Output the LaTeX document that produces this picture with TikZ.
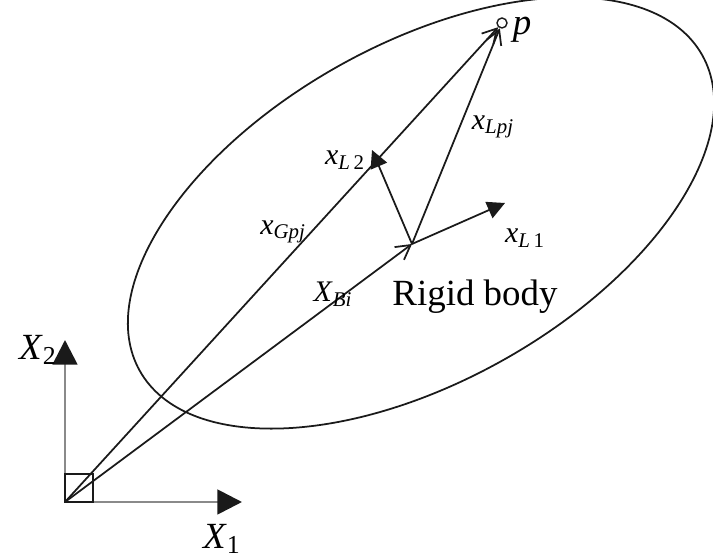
\documentclass[tikz,border=0pt]{standalone}
\usepackage{fontspec}
\setmainfont{Liberation Serif}
\usepackage{tikz}
\usetikzlibrary{shapes.geometric, arrows.meta, positioning, calc}
\definecolor{axisgray}{HTML}{8A8A8A}
\definecolor{inkblack}{HTML}{1A1A1A}

\begin{document}
\begin{tikzpicture}[
  vec/.style={-{Straight Barb[length=8pt, width=9pt, line width=1pt]}, inkblack, line width=1pt},
  frame/.style={-{Triangle[length=14pt, width=14pt, color=inkblack]}, line width=1.6pt, draw=axisgray},
  unitvec/.style={-{Triangle[length=10pt, width=10pt]}, inkblack, line width=1pt},
  lbl/.style={font=\fontsize{17}{19}\selectfont, inner sep=1pt},
  biglbl/.style={font=\fontsize{21}{24}\selectfont, inner sep=1pt},
]
  \useasboundingbox (0,0) rectangle (14.26,11.18);

  % rigid body
  \node[ellipse, draw=inkblack, line width=1pt, rotate=29.3, inner sep=0pt, outer sep=0pt,
        minimum width=12.9cm, minimum height=6.74cm] (body) at (8.42,6.92) {};

  % points
  \coordinate (O)  at (1.30,1.14);
  \coordinate (B)  at (8.24,6.30);
  \coordinate (e1) at (4.84,1.14);
  \coordinate (e2) at (1.30,4.38);
  \coordinate (l1) at (10.10,7.12);
  \coordinate (l2) at (7.44,8.18);
  \node[circle, draw=inkblack, line width=0.8pt, inner sep=0pt, minimum size=0.2cm] (p) at (10.04,10.72) {};

  % global frame
  \draw[frame] (O) -- (e2);
  \draw[frame] (O) -- (e1);
  \draw[inkblack, line width=0.8pt] (O) rectangle ++(0.56,0.56);

  % vectors
  \draw[vec] (O) -- (p);
  \draw[vec] (O) -- (B);
  \draw[vec] (B) -- (p);
  \draw[unitvec] (B) -- (l1);
  \draw[unitvec] (B) -- (l2);

  \node[biglbl] (lx2) at (0.76,4.18) {\textit{X}\textsubscript{2}};
  \node[biglbl] (lx1) at (4.44,0.40) {\textit{X}\textsubscript{1}};
  \node[biglbl] (lp) at (10.44,10.58) {\textit{p}};
  \node[lbl] (ll2) at (6.90,7.98) {\textit{x}\textsubscript{\textit{L}\,2}};
  \node[lbl] (ll1) at (10.50,6.42) {\textit{x}\textsubscript{\textit{L}\,1}};
  \node[lbl] (llp) at (9.86,8.64) {\textit{x}\textsubscript{\textit{Lpj}}};
  \node[lbl] (lgp) at (5.66,6.54) {\textit{x}\textsubscript{\textit{Gpj}}};
  \node[lbl] (lbi) at (6.66,5.30) {\textit{X}\textsubscript{\textit{Bi}}};
  \node[biglbl] (lrb) at (9.50,5.24) {Rigid body};
\end{tikzpicture}
\end{document}
